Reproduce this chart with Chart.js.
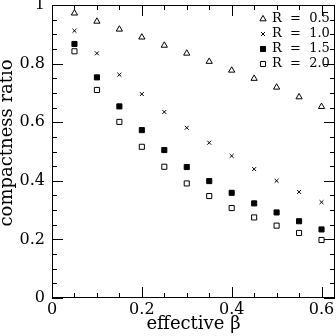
<!DOCTYPE html>
<html>
<head>
    <title>Compactness ratio</title>
    <script src="https://cdn.jsdelivr.net/npm/chart.js"></script>
    <style>
        body { margin: 0; background: #fff; }
    </style>
</head>
<body>
    <canvas id="chart" width="336" height="336"></canvas>

    <script>
        // effective beta values (x) and compactness ratio per R
        const betas = [0.05, 0.10, 0.15, 0.20, 0.25, 0.30, 0.35, 0.40, 0.45, 0.50, 0.55, 0.60];
        const r05 = [0.972, 0.944, 0.917, 0.890, 0.862, 0.835, 0.807, 0.777, 0.749, 0.719, 0.686, 0.653];
        const r10 = [0.912, 0.835, 0.762, 0.696, 0.635, 0.581, 0.530, 0.485, 0.440, 0.400, 0.362, 0.327];
        const r15 = [0.867, 0.753, 0.654, 0.573, 0.505, 0.447, 0.399, 0.359, 0.323, 0.292, 0.262, 0.234];
        const r20 = [0.842, 0.710, 0.601, 0.516, 0.448, 0.391, 0.348, 0.307, 0.275, 0.247, 0.222, 0.198];
        const seriesLabels = ['R  =  0.5', 'R  =  1.0', 'R  =  1.5', 'R  =  2.0'];
        const xTicks = [0, 0.2, 0.4, 0.6];
        const yTicks = [0, 0.2, 0.4, 0.6, 0.8, 1];

        const font = 'DejaVu Serif';
        const toPoints = vals => vals.map((v, i) => ({ x: betas[i], y: v }));

        const markers = [
            { pointStyle: 'triangle', radius: 3.6, backgroundColor: '#fff' },
            { pointStyle: 'crossRot', radius: 2.8, backgroundColor: '#000' },
            { pointStyle: 'rect', radius: 3.6, backgroundColor: '#000' },
            { pointStyle: 'rect', radius: 3.6, backgroundColor: '#fff' }
        ];

        const datasets = [r05, r10, r15, r20].map((vals, i) => ({
            label: seriesLabels[i],
            data: toPoints(vals),
            pointStyle: markers[i].pointStyle,
            pointRadius: markers[i].radius,
            pointBackgroundColor: markers[i].backgroundColor,
            pointBorderColor: '#000',
            pointBorderWidth: 1,
            showLine: false
        }));

        // frame plus inward ticks on all four sides (minor every 0.05, major every 0.2)
        const frameTicks = {
            id: 'frameTicks',
            afterDraw(chart) {
                const { ctx, chartArea: a, scales } = chart;
                ctx.save();
                ctx.strokeStyle = '#000';
                ctx.lineWidth = 1;
                ctx.strokeRect(a.left + 0.5, a.top + 0.5, a.right - a.left - 1, a.bottom - a.top - 1);
                ctx.beginPath();
                for (let k = 0; k <= 20; k++) {
                    const v = k * 0.05;
                    const len = k % 4 === 0 ? 11 : 5;
                    if (v <= scales.x.max) {
                        const px = Math.round(scales.x.getPixelForValue(v)) + 0.5;
                        ctx.moveTo(px, a.bottom); ctx.lineTo(px, a.bottom - len);
                        ctx.moveTo(px, a.top); ctx.lineTo(px, a.top + len);
                    }
                    const py = Math.round(scales.y.getPixelForValue(v)) + 0.5;
                    ctx.moveTo(a.left, py); ctx.lineTo(a.left + len, py);
                    ctx.moveTo(a.right, py); ctx.lineTo(a.right - len, py);
                }
                ctx.stroke();
                ctx.restore();
            }
        };

        // legend drawn inside the plot, top right
        const insideLegend = {
            id: 'insideLegend',
            afterDraw(chart) {
                const { ctx } = chart;
                ctx.save();
                ctx.font = '13px "' + font + '"';
                ctx.textBaseline = 'middle';
                chart.data.datasets.forEach((ds, i) => {
                    const y = 19 + i * 15;
                    ctx.strokeStyle = '#000';
                    ctx.fillStyle = ds.pointBackgroundColor;
                    ctx.lineWidth = 1;
                    Chart.helpers.drawPoint(ctx, {
                        pointStyle: ds.pointStyle, radius: ds.pointRadius, rotation: 0, borderWidth: 1
                    }, 263, y);
                    ctx.fillStyle = '#000';
                    ctx.fillText(ds.label, 272, y);
                });
                ctx.restore();
            }
        };

        new Chart(document.getElementById('chart'), {
            type: 'scatter',
            data: { datasets },
            options: {
                responsive: false,
                animation: false,
                layout: { autoPadding: false, padding: { top: 5, right: 1, left: 0, bottom: 0 } },
                plugins: { legend: { display: false }, tooltip: { enabled: false } },
                scales: {
                    x: {
                        type: 'linear',
                        min: 0,
                        max: 0.63,
                        grid: { display: false, drawTicks: false },
                        border: { display: false },
                        afterBuildTicks: s => { s.ticks = xTicks.map(v => ({ value: v })); },
                        afterFit: s => { s.height = 38; s.paddingLeft = 0; s.paddingRight = 0; },
                        ticks: {
                            color: '#000',
                            padding: 2,
                            maxRotation: 0,
                            font: { family: font, size: 16 },
                            callback: v => v === 0 ? '0' : v.toFixed(1)
                        },
                        title: {
                            display: true,
                            text: 'effective β',
                            color: '#000',
                            font: { family: font, size: 18 },
                            padding: { top: 0, bottom: 1 }
                        }
                    },
                    y: {
                        min: 0,
                        max: 1,
                        grid: { display: false, drawTicks: false },
                        border: { display: false },
                        afterBuildTicks: s => { s.ticks = yTicks.map(v => ({ value: v })); },
                        afterFit: s => { s.width = 52; s.paddingTop = 0; s.paddingBottom = 0; },
                        ticks: {
                            color: '#000',
                            padding: 7,
                            font: { family: font, size: 16 },
                            callback: v => (v === 0 || v === 1) ? String(v) : v.toFixed(1)
                        },
                        title: {
                            display: true,
                            text: '   compactness ratio',
                            color: '#000',
                            font: { family: font, size: 18, lineHeight: 0.8 },
                            padding: { top: 0, bottom: 0 }
                        }
                    }
                }
            },
            plugins: [frameTicks, insideLegend]
        });
    </script>
</body>
</html>
